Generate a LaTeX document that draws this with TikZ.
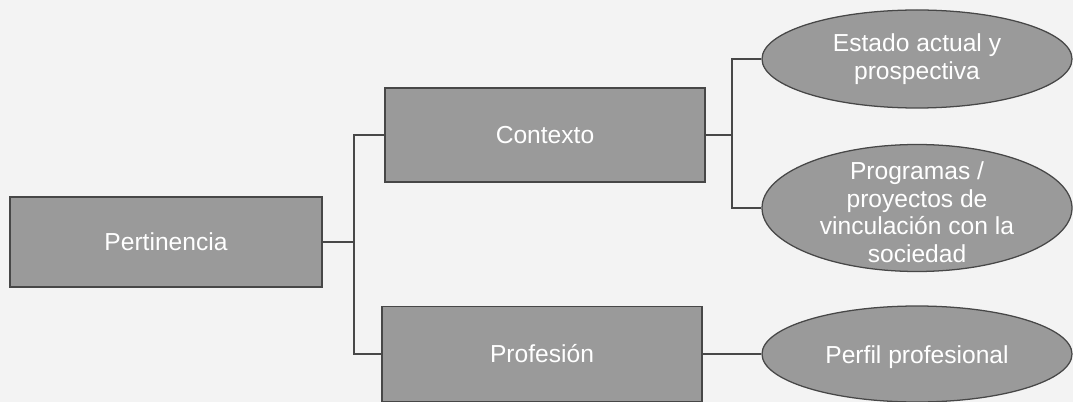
\documentclass[tikz,border=0pt]{standalone}
\usepackage{fontspec}
\setmainfont{Liberation Sans}
\usetikzlibrary{shapes.geometric}
\definecolor{boxgray}{HTML}{9A9A9A}
\definecolor{edgegray}{HTML}{474747}
\definecolor{paper}{HTML}{F3F3F3}
\begin{document}
\begin{tikzpicture}[
		box/.style={rectangle, draw=edgegray, line width=0.9pt, fill=boxgray, inner sep=0pt, minimum width=8cm, minimum height=2.35cm},
		leaf/.style={ellipse, draw=edgegray, line width=0.9pt, fill=boxgray, inner sep=0pt, minimum width=7.75cm},
		txt/.style={text=white, align=center, inner sep=0pt, font=\fontsize{17.5pt}{19.5pt}\selectfont},
		link/.style={draw=edgegray, line width=1.5pt}]
				% 0. 背景纸张 (固定边界)
				\useasboundingbox (0,0) rectangle (26.825,-10.05);
				\fill[paper] (0,0) rectangle (26.825,-10.05);
				
				% 1. 矩形节点
				\node[box, minimum width=7.8cm, minimum height=2.25cm] (pert) at (4.15,-6.05) {};
				\node[box] (ctx) at (13.625,-3.375) {};
				\node[box, minimum height=2.375cm] (prof) at (13.55,-8.85) {};
				\node[txt] (pertxt) at (pert) {Pertinencia};
				\node[txt] (ctxtxt) at (ctx) {Contexto};
				\node[txt] (proftxt) at (prof) {Profesión};
				
				% 2. 椭圆节点 (文字单独叠加)
				\node[leaf, minimum height=2.45cm] (est) at (22.925,-1.475) {};
				\node[leaf, minimum height=3.175cm] (prog) at (22.925,-5.2) {};
				\node[leaf, minimum height=2.4cm] (perfil) at (22.925,-8.85) {};
				\node[txt] (esttxt) at (est) {Estado actual y\\prospectiva};
				\node[txt] (progtxt) at ([yshift=-3pt]prog) {Programas /\\proyectos de\\vinculación con la\\sociedad};
				\node[txt] (perfiltxt) at ([yshift=-2pt]perfil) {Perfil profesional};
				
				% 3. 连接线 (分叉点)
				\coordinate (forkL) at (8.85,-6.05);
				\coordinate (forkR) at (18.3,-3.375);
				\draw[link] (pert.east) -- (forkL);
				\draw[link] (ctx.west) -| (forkL) |- (prof.west);
				\draw[link] (ctx.east) -- (forkR);
				\draw[link] (est.west) -| (forkR) |- (prog.west);
				\draw[link] (prof.east) -- (perfil.west);
\end{tikzpicture}
\end{document}
